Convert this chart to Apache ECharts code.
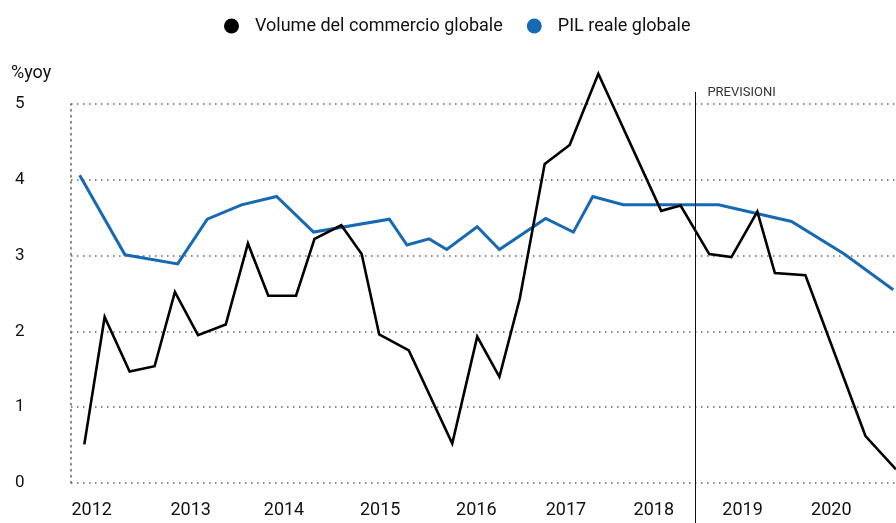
<!DOCTYPE html>
<html>
<head>
<meta charset="utf-8">
<script src="https://cdn.jsdelivr.net/npm/echarts@6/dist/echarts.min.js"></script>
<style>
html, body { margin: 0; padding: 0; background: #fff; }
#main { width: 896px; height: 523px; }
</style>
</head>
<body>
<div id="main"></div>
<script>
// time positions are decimal years, values are % yoy
const tradeX = [2011.92, 2012.14, 2012.41, 2012.68, 2012.90, 2013.15, 2013.45, 2013.69, 2013.91, 2014.21,
  2014.41, 2014.70, 2014.92, 2015.11, 2015.43, 2015.90, 2016.17, 2016.41, 2016.63, 2016.90,
  2017.17, 2017.48, 2018.16, 2018.37, 2018.68, 2018.92, 2019.20, 2019.39, 2019.72, 2020.37, 2020.70]
const tradeY = [0.51, 2.19, 1.47, 1.54, 2.52, 1.95, 2.09, 3.16, 2.47, 2.47,
  3.22, 3.40, 3.02, 1.96, 1.75, 0.52, 1.93, 1.40, 2.43, 4.21,
  4.46, 5.40, 3.59, 3.66, 3.02, 2.98, 3.58, 2.77, 2.74, 0.62, 0.18]
const gdpX = [2011.87, 2012.36, 2012.93, 2013.25, 2013.62, 2014.00, 2014.40, 2015.22, 2015.41, 2015.65,
  2015.84, 2016.17, 2016.41, 2016.91, 2017.21, 2017.42, 2017.75, 2018.78, 2019.57, 2020.14, 2020.67]
const gdpY = [4.06, 3.01, 2.89, 3.48, 3.67, 3.78, 3.31, 3.48, 3.14, 3.22,
  3.08, 3.38, 3.08, 3.49, 3.31, 3.78, 3.67, 3.67, 3.45, 3.02, 2.55]
const yearTicks = [2012.0, 2013.07, 2014.08, 2015.12, 2016.16, 2017.13, 2018.08, 2019.04, 2020.0]
const forecastStart = 2018.53

const font = 'Roboto'
const xMin = 2011.776
const xMax = 2020.70
const chart = echarts.init(document.getElementById('main'))

const option = {
  animation: false,
  textStyle: { fontFamily: font, color: '#111' },
  legend: {
    top: 12,
    left: 219,
    icon: 'circle',
    itemWidth: 15,
    itemHeight: 15,
    itemGap: 24,
    textStyle: { fontSize: 18, color: '#111', padding: [0, 0, 0, 11] },
    data: ['Volume del commercio globale', 'PIL reale globale']
  },
  grid: [
    { left: 71, right: 0, top: 104, bottom: 40 },
    // taller grid only used for the forecast divider
    { left: 71, right: 0, top: 92, bottom: 0 }
  ],
  xAxis: [
    {
      type: 'value',
      min: xMin,
      max: xMax,
      axisLine: { show: false },
      axisTick: { show: false },
      splitLine: { show: false },
      axisLabel: {
        customValues: yearTicks,
        formatter: v => String(Math.round(v)),
        fontSize: 18,
        color: '#111',
        margin: 18
      }
    },
    { type: 'value', gridIndex: 1, min: xMin, max: xMax, show: false }
  ],
  yAxis: [
    {
      type: 'value',
      name: '%yoy',
      nameLocation: 'end',
      nameGap: 0,
      nameTextStyle: { fontSize: 18, color: '#111', align: 'left', padding: [0, 0, 22, -60] },
      min: 0,
      max: 5,
      interval: 1,
      axisLine: { show: true, lineStyle: { color: '#666', width: 1.5, type: [1.5, 4.5] } },
      axisTick: { show: false },
      splitLine: { show: true, lineStyle: { color: '#666', width: 1.5, type: [1.5, 4.5] } },
      axisLabel: { fontSize: 17, color: '#111', align: 'left', margin: 56 }
    },
    { type: 'value', gridIndex: 1, min: 0, max: 1, show: false }
  ],
  series: [
    {
      name: 'Volume del commercio globale',
      type: 'line',
      data: tradeX.map((x, i) => [x, tradeY[i]]),
      symbol: 'none',
      clip: false,
      itemStyle: { color: '#000' },
      lineStyle: { color: '#000', width: 2.6, join: 'miter' },
      z: 3
    },
    {
      name: 'PIL reale globale',
      type: 'line',
      data: gdpX.map((x, i) => [x, gdpY[i]]),
      symbol: 'none',
      clip: false,
      itemStyle: { color: '#1769b3' },
      lineStyle: { color: '#1769b3', width: 3, join: 'miter' },
      z: 2
    },
    {
      name: 'forecast',
      type: 'line',
      xAxisIndex: 1,
      yAxisIndex: 1,
      data: [],
      markLine: {
        symbol: 'none',
        silent: true,
        lineStyle: { color: '#111', width: 1, type: 'solid' },
        label: {
          show: true,
          formatter: 'PREVISIONI',
          position: 'end',
          align: 'left',
          verticalAlign: 'middle',
          offset: [12, 6],
          fontSize: 13,
          color: '#333'
        },
        data: [{ xAxis: forecastStart }]
      }
    }
  ]
}

chart.setOption(option)
window.addEventListener('resize', () => chart.resize())
</script>
</body>
</html>
